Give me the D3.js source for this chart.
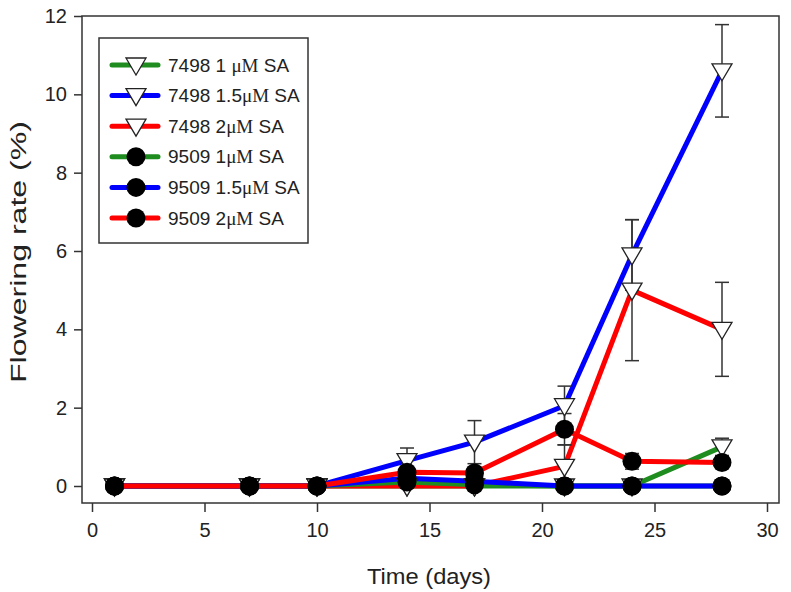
<!DOCTYPE html>
<html><head><meta charset="utf-8">
<script src="https://cdn.jsdelivr.net/npm/d3@7"></script>
<style>body{margin:0;background:#fff}svg{display:block}text{font-family:"Liberation Sans",Arial,sans-serif;fill:#222}</style>
</head><body><svg id="c" width="791" height="592"></svg>
<script>
const days = [1, 7, 10, 14, 17, 21, 24, 28];
const xTicks = [0, 5, 10, 15, 20, 25, 30];
const yTicks = [0, 2, 4, 6, 8, 10, 12];
const names = ["7498 1 μM SA", "7498 1.5μM SA", "7498 2μM SA", "9509 1μM SA", "9509 1.5μM SA", "9509 2μM SA"];
const v7498_1  = [0, 0, 0, 0, 0, 0, 0, 1.0];
const e7498_1  = [0, 0, 0, 0, 0, 0, 0, 0.22];
const v7498_15 = [0, 0, 0, 0.65, 1.12, 2.05, 5.9, 10.6];
const e7498_15 = [0, 0, 0, 0.32, 0.55, 0.5, 0.9, 1.18];
const v7498_2  = [0, 0, 0, 0, 0, 0.5, 5.0, 4.0];
const e7498_2  = [0, 0, 0, 0, 0, 0.55, 1.8, 1.2];
const v9509_1  = [0, 0, 0, 0.1, 0.03, 0, 0, 0];
const e9509_1  = [0, 0, 0, 0, 0, 0, 0, 0];
const v9509_15 = [0, 0, 0, 0.2, 0.12, 0, 0, 0];
const e9509_15 = [0, 0, 0, 0, 0, 0, 0, 0];
const v9509_2  = [0, 0, 0, 0.35, 0.33, 1.45, 0.63, 0.6];
const e9509_2  = [0, 0, 0, 0.1, 0.1, 0.4, 0.2, 0];

const colors = ["#1e8c1e", "#0000ff", "#ff0000", "#1e8c1e", "#0000ff", "#ff0000"];
const shapes = ["tri", "tri", "tri", "dot", "dot", "dot"];
const vals = [v7498_1, v7498_15, v7498_2, v9509_1, v9509_15, v9509_2];
const errs = [e7498_1, e7498_15, e7498_2, e9509_1, e9509_15, e9509_2];
const series = names.map((n, i) => ({name: n, color: colors[i], shape: shapes[i],
  pts: days.map((d, j) => ({x: d, y: vals[i][j], e: errs[i][j]}))}));

const svg = d3.select("#c");
const L = 82, R = 779, T = 16, B = 503;
const x = d3.scaleLinear().domain([0, 30]).range([92, 767]);
const y = d3.scaleLinear().domain([0, 12]).range([486, 16]);

// frame
svg.append("rect").attr("x", L).attr("y", T).attr("width", R - L).attr("height", B - T)
  .attr("fill", "none").attr("stroke", "#333").attr("stroke-width", 1.5);

// axes
const xa = svg.append("g").attr("transform", `translate(0,${B})`)
  .call(d3.axisBottom(x).tickValues(xTicks).tickSize(9).tickPadding(11).tickFormat(d3.format("d")));
const ya = svg.append("g").attr("transform", `translate(${L},0)`)
  .call(d3.axisLeft(y).tickValues(yTicks).tickSize(8).tickPadding(7).tickFormat(d3.format("d")));
[xa, ya].forEach(a => {
  a.select(".domain").remove();
  a.selectAll("line").attr("stroke", "#333").attr("stroke-width", 1.5);
  a.selectAll("text").attr("font-size", 20).attr("fill", "#222")
   .style("font-family", '"Liberation Sans", Arial, sans-serif');
});

svg.append("text").attr("x", 429).attr("y", 584).attr("text-anchor", "middle")
  .attr("font-size", 22).attr("textLength", 124).attr("lengthAdjust", "spacingAndGlyphs").text("Time (days)");
svg.append("text").attr("transform", "translate(26,252) rotate(-90)").attr("text-anchor", "middle")
  .attr("font-size", 22).attr("textLength", 262).attr("lengthAdjust", "spacingAndGlyphs").text("Flowering rate (%)");

const line = d3.line().x(d => x(d.x)).y(d => y(d.y));
const tri = "M-10,-7L10,-7L0,10Z";

// lines
series.forEach(s => {
  svg.append("path").datum(s.pts).attr("d", line).attr("fill", "none")
    .attr("stroke", s.color).attr("stroke-width", 5).attr("stroke-linejoin", "round");
});
// error bars
series.forEach(s => {
  const g = svg.append("g").attr("stroke", "#333").attr("stroke-width", 1.5);
  s.pts.filter(p => p.e > 0).forEach(p => {
    const cx = x(p.x), y1 = y(p.y + p.e), y0 = y(p.y - p.e);
    g.append("line").attr("x1", cx).attr("x2", cx).attr("y1", y1).attr("y2", y0);
    g.append("line").attr("x1", cx - 7).attr("x2", cx + 7).attr("y1", y1).attr("y2", y1);
    g.append("line").attr("x1", cx - 7).attr("x2", cx + 7).attr("y1", y0).attr("y2", y0);
  });
});
// markers
function marker(g, shape, cx, cy) {
  if (shape === "tri") g.append("path").attr("d", tri).attr("transform", `translate(${cx},${cy})`)
    .attr("fill", "#fff").attr("stroke", "#222").attr("stroke-width", 1.3);
  else g.append("circle").attr("cx", cx).attr("cy", cy).attr("r", 9.5).attr("fill", "#000");
}
series.forEach(s => {
  const g = svg.append("g");
  s.pts.forEach(p => marker(g, s.shape, x(p.x), y(p.y)));
});

// legend
const lg = svg.append("g");
lg.append("rect").attr("x", 99).attr("y", 38).attr("width", 209).attr("height", 205)
  .attr("fill", "#fff").attr("stroke", "#333").attr("stroke-width", 1.5);
series.forEach((s, i) => {
  const ry = 65 + i * 30.6;
  lg.append("line").attr("x1", 112).attr("x2", 158).attr("y1", ry).attr("y2", ry)
    .attr("stroke", s.color).attr("stroke-width", 5).attr("stroke-linecap", "round");
  marker(lg, s.shape, 136, ry);
  const t = lg.append("text").attr("x", 168).attr("y", ry + 6.5).attr("font-size", 19);
  const m = s.name.match(/^(.*?)(μM)(.*)$/);
  t.append("tspan").text(m[1]);
  t.append("tspan").style("font-family", '"Liberation Serif","Times New Roman",serif').text(m[2]);
  t.append("tspan").text(m[3]);
});
</script></body></html>
